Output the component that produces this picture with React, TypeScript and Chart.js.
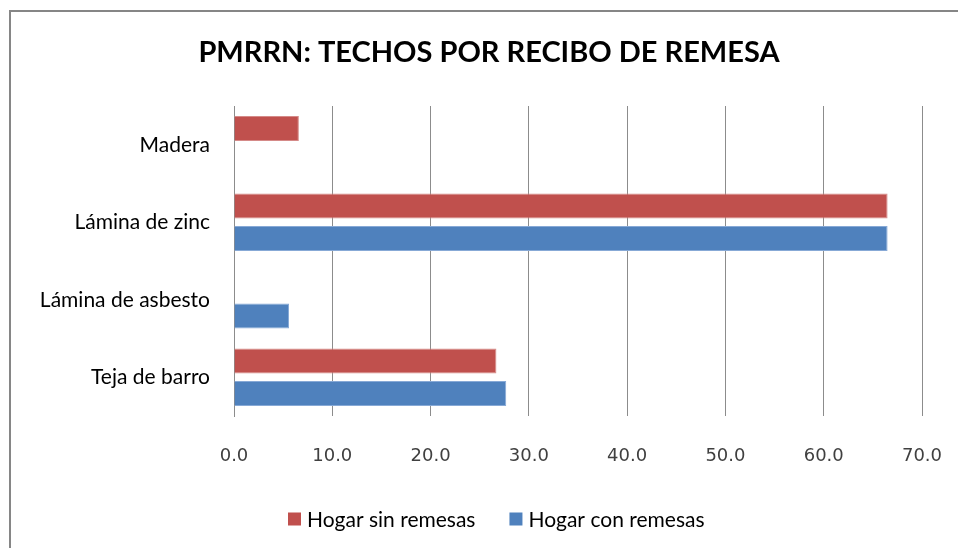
import React, { useEffect, useRef } from "react";
import { Chart, registerables } from "chart.js";

Chart.register(...registerables);

const categories = ["Madera", "Lámina de zinc", "Lámina de asbesto", "Teja de barro"];
const sinRemesas = [6.6, 66.5, 0, 26.7];
const conRemesas = [0, 66.5, 5.6, 27.7];
const seriesNames = ["Hogar sin remesas", "Hogar con remesas"];
const seriesColors = ["#C0504D", "#4F81BD"];
const seriesBorders = ["#D58A88", "#87A9D6"];
const titleText = "PMRRN: TECHOS POR RECIBO DE REMESA";

const framePlugin = {
  id: "frame",
  beforeDraw(chart: any) {
    const ctx = chart.ctx;
    ctx.save();
    ctx.fillStyle = "#ffffff";
    ctx.fillRect(0, 0, chart.width, chart.height);
    ctx.strokeStyle = "#868686";
    ctx.lineWidth = 2;
    ctx.strokeRect(10, 11, chart.width + 20, chart.height + 20);
    ctx.restore();
  },
  afterDraw(chart: any) {
    const ctx = chart.ctx;
    ctx.save();
    // title
    ctx.font = "bold 29px Lato";
    ctx.fillStyle = "#000000";
    ctx.textAlign = "center";
    ctx.textBaseline = "middle";
    ctx.fillText(titleText, 489, 53);
    // legend
    ctx.font = "21px Lato";
    ctx.textAlign = "left";
    let x = 288;
    const y = 519;
    chart.data.datasets.forEach((ds: any, i: number) => {
      ctx.fillStyle = ds.backgroundColor;
      ctx.fillRect(x, y - 6.5, 13, 13);
      ctx.fillStyle = "#000000";
      ctx.fillText(ds.label, x + 19, y + 1);
      x += 19 + ctx.measureText(ds.label).width + 34;
    });
    ctx.restore();
  },
};

export default function App() {
  const ref = useRef<HTMLCanvasElement | null>(null);
  useEffect(() => {
    if (!ref.current) return;
    const chart = new Chart(ref.current, {
      type: "bar",
      data: {
        labels: categories,
        datasets: [
          { label: seriesNames[0], data: sinRemesas, backgroundColor: seriesColors[0], borderColor: seriesBorders[0], borderWidth: 1 },
          { label: seriesNames[1], data: conRemesas, backgroundColor: seriesColors[1], borderColor: seriesBorders[1], borderWidth: 1 },
        ],
      },
      plugins: [framePlugin],
      options: {
        indexAxis: "y",
        animation: false,
        responsive: false,
        devicePixelRatio: 1,
        layout: { padding: { left: 0, right: 36, top: 106, bottom: 0 } },
        datasets: { bar: { categoryPercentage: 0.844, barPercentage: 0.765 } },
        scales: {
          x: {
            min: 0,
            max: 70,
            ticks: {
              stepSize: 10,
              callback: (v: any) => Number(v).toFixed(1),
              font: { family: "DejaVu Sans", size: 18 },
              color: "#404040",
              padding: 0,
            },
            grid: { color: "#8c8c8c", lineWidth: 1, drawTicks: true, tickLength: 30, tickColor: "rgba(0,0,0,0)" },
            border: { display: false },
            afterFit: (scale: any) => {
              scale.height = 132;
            },
          },
          y: {
            ticks: {
              font: { family: "Lato", size: 21 },
              color: "#000000",
              padding: 24,
            },
            grid: { display: false, drawTicks: false },
            border: { display: true, color: "#8c8c8c", width: 1 },
            afterFit: (scale: any) => {
              scale.width = 234;
            },
          },
        },
        plugins: {
          title: { display: false },
          legend: { display: false },
          tooltip: { enabled: false },
        },
      },
    });
    return () => chart.destroy();
  }, []);
  return (
    <div style={{ position: "absolute", left: 0, top: 0, width: 958, height: 548, overflow: "hidden" }}>
      <canvas ref={ref} width={958} height={548} style={{ width: 958, height: 548 }} />
    </div>
  );
}
